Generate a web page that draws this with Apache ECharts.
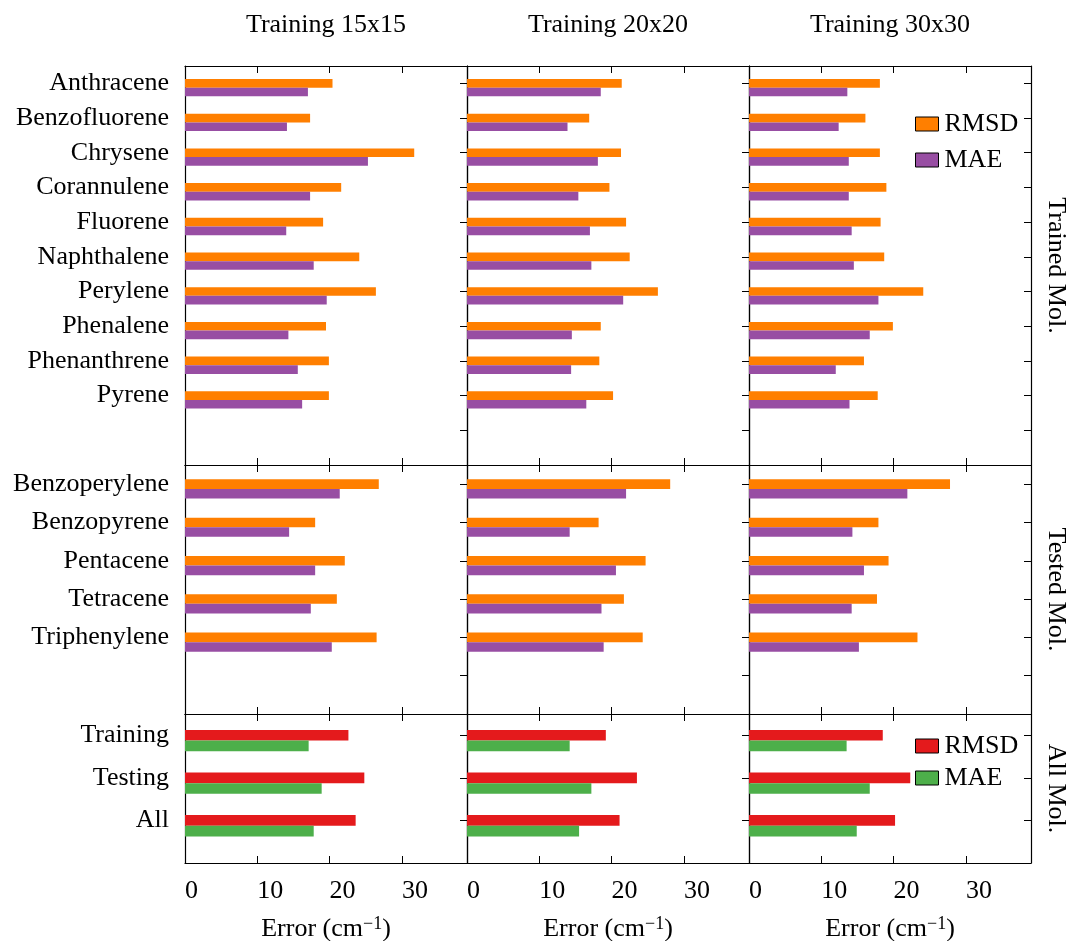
<!DOCTYPE html>
<html>
<head>
<meta charset="utf-8">
<script src="https://cdn.jsdelivr.net/npm/echarts@6/dist/echarts.min.js"></script>
<style>
    html, body { margin: 0; padding: 0; background: #fff; }
    #main { width: 1069px; height: 941px; }
</style>
</head>
<body>
<div id="main"></div>
<script>
const trainedMols = ['Anthracene', 'Benzofluorene', 'Chrysene', 'Corannulene', 'Fluorene', 'Naphthalene', 'Perylene', 'Phenalene', 'Phenanthrene', 'Pyrene']
const testedMols = ['Benzoperylene', 'Benzopyrene', 'Pentacene', 'Tetracene', 'Triphenylene']
const allSets = ['Training', 'Testing', 'All']
const trainings = ['Training 15x15', 'Training 20x20', 'Training 30x30']
const rowNames = ['Trained Mol.', 'Tested Mol.', 'All Mol.']

// trained molecules
const trainedRmsd15 = [20.4, 17.3, 31.7, 21.6, 19.1, 24.1, 26.4, 19.5, 19.9, 19.9]
const trainedMae15 = [17.0, 14.1, 25.3, 17.3, 14.0, 17.8, 19.6, 14.3, 15.6, 16.2]
const trainedRmsd20 = [21.4, 16.9, 21.3, 19.7, 22.0, 22.5, 26.4, 18.5, 18.3, 20.2]
const trainedMae20 = [18.5, 13.9, 18.1, 15.4, 17.0, 17.2, 21.6, 14.5, 14.4, 16.5]
const trainedRmsd30 = [18.1, 16.1, 18.1, 19.0, 18.2, 18.7, 24.1, 19.9, 15.9, 17.8]
const trainedMae30 = [13.6, 12.4, 13.8, 13.8, 14.2, 14.5, 17.9, 16.7, 12.0, 13.9]

// tested molecules
const testedRmsd15 = [26.8, 18.0, 22.1, 21.0, 26.5]
const testedMae15 = [21.4, 14.4, 18.0, 17.4, 20.3]
const testedRmsd20 = [28.1, 18.2, 24.7, 21.7, 24.3]
const testedMae20 = [22.0, 14.2, 20.6, 18.6, 18.9]
const testedRmsd30 = [27.8, 17.9, 19.3, 17.7, 23.3]
const testedMae30 = [21.9, 14.3, 15.9, 14.2, 15.2]

// all molecules
const allRmsd15 = [22.6, 24.8, 23.6]
const allMae15 = [17.1, 18.9, 17.8]
const allRmsd20 = [19.2, 23.5, 21.1]
const allMae20 = [14.2, 17.2, 15.5]
const allRmsd30 = [18.5, 22.3, 20.2]
const allMae30 = [13.5, 16.7, 14.9]

const FONT = 'Liberation Serif'
const FS = 26

const rows = [
    { names: trainedMols, slots: 11, rmsd: [trainedRmsd15, trainedRmsd20, trainedRmsd30], mae: [trainedMae15, trainedMae20, trainedMae30], colors: ['#ff7f00', '#984ea3'] },
    { names: testedMols, slots: 6, rmsd: [testedRmsd15, testedRmsd20, testedRmsd30], mae: [testedMae15, testedMae20, testedMae30], colors: ['#ff7f00', '#984ea3'] },
    { names: allSets, slots: 3, rmsd: [allRmsd15, allRmsd20, allRmsd30], mae: [allMae15, allMae20, allMae30], colors: ['#e41a1c', '#4daf4a'] },
]

const colLeft = [185, 467, 749]
const colWidth = 282
const rowTop = [66, 465, 714]
const rowHeight = [399, 249, 149]

const grid = []
const xAxis = []
const yAxis = []
const series = []

rows.forEach((row, r) => {
    // quarter-slot categories: ticks at 2, 6, 10, ...
    const count = row.slots * 4 + 3
    const cats = []
    for (let i = 0; i < count; i++) cats.push('q' + i)

    for (let c = 0; c < 3; c++) {
        const g = r * 3 + c
        grid.push({
            left: colLeft[c], top: rowTop[r], width: colWidth, height: rowHeight[r],
            outerBoundsMode: 'none', containLabel: false
        })

        const lastRow = r === rows.length - 1
        xAxis.push({
            type: 'value', gridIndex: g, position: 'bottom',
            min: 0, max: 39, interval: 10,
            axisLine: { show: true, onZero: false, lineStyle: { color: '#000', width: 1.2 } },
            axisTick: { show: true, inside: true, length: 7, lineStyle: { color: '#000' } },
            axisLabel: {
                show: lastRow, align: 'left', margin: 15, showMaxLabel: false,
                color: '#000', fontFamily: FONT, fontSize: FS
            },
            splitLine: { show: false },
            name: lastRow ? 'Error (cm{sup|\u22121})' : '',
            nameLocation: 'middle', nameGap: 52,
            nameTextStyle: {
                color: '#000', fontFamily: FONT, fontSize: FS,
                rich: { sup: { fontFamily: FONT, fontSize: 18, verticalAlign: 'top', padding: [0, 0, 10, 0], color: '#000' } }
            }
        })
        xAxis.push({
            type: 'value', gridIndex: g, position: 'top',
            min: 0, max: 39, interval: 10,
            axisLine: { show: true, onZero: false, lineStyle: { color: '#000', width: 1.2 } },
            axisTick: { show: true, inside: true, length: 7, lineStyle: { color: '#000' } },
            axisLabel: { show: false },
            splitLine: { show: false },
            name: r === 0 ? trainings[c] : '',
            nameLocation: 'middle', nameGap: 28,
            nameTextStyle: { color: '#000', fontFamily: FONT, fontSize: FS }
        })

        yAxis.push({
            type: 'category', gridIndex: g, position: 'left',
            data: cats, inverse: true, boundaryGap: false,
            axisLine: { show: true, onZero: false, lineStyle: { color: '#000', width: 1.2 } },
            axisTick: { show: false },
            axisLabel: {
                show: c === 0, interval: 0, margin: 16,
                color: '#000', fontFamily: FONT, fontSize: FS,
                formatter: (v, i) => (i % 4 === 2 && row.names[(i - 2) / 4]) || ''
            },
            splitLine: { show: false }
        })
        yAxis.push({
            type: 'category', gridIndex: g, position: 'right',
            data: cats, inverse: true, boundaryGap: false,
            axisLine: { show: true, onZero: false, lineStyle: { color: '#000', width: 1.2 } },
            axisTick: { show: true, inside: true, length: 7, interval: i => i % 4 === 2, lineStyle: { color: '#000' } },
            axisLabel: { show: false },
            splitLine: { show: false },
            name: c === 2 ? rowNames[r] : '',
            nameLocation: 'middle', nameRotate: -90, nameGap: 12,
            nameTextStyle: { color: '#000', fontFamily: FONT, fontSize: FS }
        })

        const rmsdData = cats.map((v, i) => (i % 4 === 2 && row.rmsd[c][(i - 2) / 4] != null) ? row.rmsd[c][(i - 2) / 4] : null)
        const maeData = cats.map((v, i) => (i % 4 === 3 && row.mae[c][(i - 3) / 4] != null) ? row.mae[c][(i - 3) / 4] : null)

        series.push({
            name: 'RMSD', type: 'bar', xAxisIndex: 2 * g, yAxisIndex: 2 * g,
            data: rmsdData, barWidth: '100%', barGap: '-100%',
            itemStyle: { color: row.colors[0] }, silent: true
        })
        series.push({
            name: 'MAE', type: 'bar', xAxisIndex: 2 * g, yAxisIndex: 2 * g,
            data: maeData, barWidth: '100%', barGap: '-100%',
            itemStyle: { color: row.colors[1] }, silent: true
        })
    }
})

const myChart = echarts.init(document.getElementById('main'))

const legendBase = {
    orient: 'vertical', left: 915, itemWidth: 23, itemHeight: 14,
    icon: 'rect', selectedMode: false, padding: 0,
    itemStyle: { borderColor: '#000', borderWidth: 1 },
    textStyle: { color: '#000', fontFamily: FONT, fontSize: FS, lineHeight: 25, padding: [0, 0, 0, 1] }
}

const option = {
    animation: false,
    backgroundColor: '#fff',
    grid: grid,
    xAxis: xAxis,
    yAxis: yAxis,
    legend: [
        Object.assign({}, legendBase, {
            top: 111, itemGap: 10,
            data: [{ name: 'RMSD', itemStyle: { color: '#ff7f00' } }, { name: 'MAE', itemStyle: { color: '#984ea3' } }]
        }),
        Object.assign({}, legendBase, {
            top: 733, itemGap: 6,
            data: [{ name: 'RMSD', itemStyle: { color: '#e41a1c' } }, { name: 'MAE', itemStyle: { color: '#4daf4a' } }]
        })
    ],
    series: series
}

myChart.setOption(option)
</script>
</body>
</html>
